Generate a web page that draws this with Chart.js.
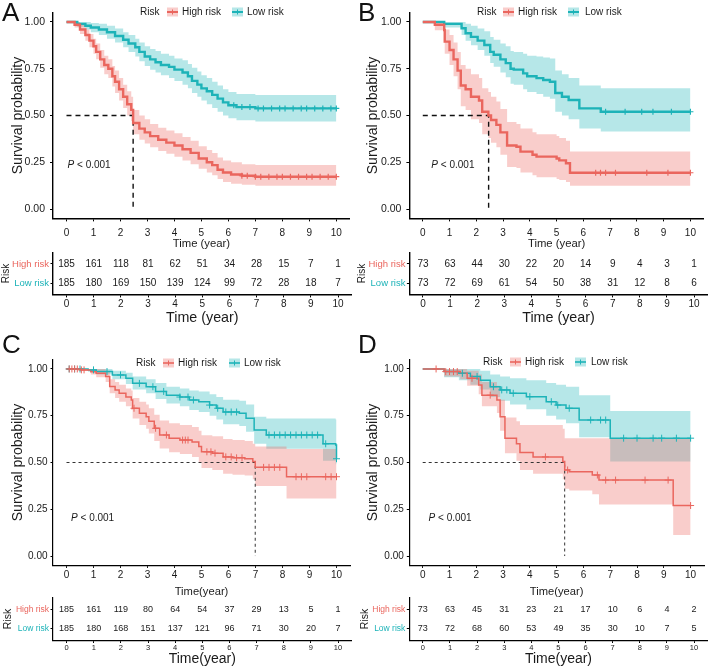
<!DOCTYPE html>
<html><head><meta charset="utf-8"><title>Kaplan-Meier survival by risk group</title>
<script src="https://cdn.jsdelivr.net/npm/chart.js@4.4.1/dist/chart.umd.min.js"></script>
<style>
html,body{margin:0;padding:0;background:#fff}
#wrap{position:relative;width:709px;height:668px;overflow:hidden;background:#fff}
#wrap canvas{position:absolute}
</style>
</head><body><div id="wrap"></div>
<script>
// ---------------- DATA ----------------
const RISK_GROUPS = ['High risk', 'Low risk'];
const X_TICKS = [0,1,2,3,4,5,6,7,8,9,10];
const Y_TICKS = [0, 0.25, 0.5, 0.75, 1];
const RISK_TIMES = [0,1,2,3,4,5,6,7,8,9,10];

// Panel A
const aHighT  = [0,0.3,0.5,0.7,0.85,1.0,1.1,1.25,1.4,1.55,1.7,1.8,1.95,2.1,2.25,2.4,2.47,2.7,2.9,3.1,3.4,3.7,4.0,4.3,4.6,4.9,5.2,5.4,5.6,5.8,6.1,6.5,7.0];
const aHighS  = [1,.985,.96,.93,.90,.87,.84,.80,.77,.75,.71,.68,.64,.60,.56,.53,.46,.43,.41,.39,.37,.355,.34,.32,.30,.27,.25,.235,.21,.195,.185,.178,.173];
const aHighLo = [1,.97,.935,.90,.865,.83,.80,.755,.72,.70,.655,.62,.58,.54,.50,.47,.40,.37,.35,.33,.31,.295,.28,.26,.24,.215,.195,.18,.16,.145,.135,.13,.125];
const aHighHi = [1,1,.985,.96,.935,.91,.885,.85,.82,.80,.765,.74,.70,.665,.63,.60,.53,.50,.48,.455,.435,.42,.405,.385,.365,.335,.315,.30,.275,.26,.25,.24,.235];
const aHighCens = [6.5,6.7,7.0,7.2,7.5,7.8,8.0,8.3,8.6,8.9,9.1,9.4,9.7,10.0];
const aLowT  = [0,0.4,0.7,0.9,1.2,1.5,1.8,2.1,2.3,2.55,2.7,2.9,3.1,3.3,3.5,3.8,4.0,4.3,4.5,4.65,4.85,5.0,5.2,5.4,5.6,5.8,6.0,6.3,7.0];
const aLowS  = [1,.99,.98,.97,.96,.945,.925,.905,.885,.865,.84,.815,.80,.785,.77,.76,.745,.73,.71,.685,.665,.645,.63,.61,.59,.57,.555,.545,.538];
const aLowLo = [1,.975,.96,.945,.93,.91,.89,.865,.84,.815,.79,.765,.745,.73,.715,.70,.685,.665,.645,.62,.60,.58,.56,.54,.52,.50,.485,.475,.468];
const aLowHi = [1,1,1,.995,.99,.98,.965,.945,.93,.91,.89,.87,.855,.845,.83,.82,.805,.795,.775,.755,.735,.715,.70,.68,.66,.64,.625,.615,.61];
const aLowCens = [6.2,6.5,6.8,7.1,7.3,7.6,7.9,8.1,8.4,8.7,8.9,9.2,9.5,9.8,10.0];
const aRiskHigh = [185,161,118,81,62,51,34,28,15,7,1];
const aRiskLow  = [185,180,169,150,139,124,99,72,28,18,7];
const aMedian = 2.47;

// Panel B
const bHighT  = [0,0.45,0.8,0.82,1.0,1.15,1.3,1.42,1.6,1.8,2.1,2.22,2.45,2.55,2.75,2.9,3.15,3.5,3.65,4.1,4.25,5.0,5.1,5.35,5.5];
const bHighS  = [1,.985,.957,.895,.85,.80,.74,.66,.64,.60,.58,.52,.50,.476,.45,.41,.34,.333,.307,.29,.28,.27,.26,.245,.194];
const bHighLo = [1,.955,.91,.83,.77,.71,.64,.55,.53,.48,.46,.40,.38,.355,.33,.29,.225,.22,.195,.18,.17,.16,.155,.145,.125];
const bHighHi = [1,1,1,.96,.93,.89,.84,.77,.75,.72,.70,.645,.625,.60,.575,.535,.465,.455,.43,.41,.40,.39,.38,.365,.307];
const bHighCens = [6.46,6.64,6.83,7.2,8.37,9.16,10.0];
const bLowT  = [0,0.8,1.45,1.6,1.8,2.05,2.3,2.52,2.65,2.9,3.1,3.28,3.4,3.75,3.9,4.25,4.5,4.75,4.95,5.2,5.45,5.85,6.65];
const bLowS  = [1,.99,.966,.94,.92,.90,.877,.84,.825,.80,.78,.75,.745,.725,.71,.70,.69,.68,.62,.60,.583,.538,.52];
const bLowLo = [1,.97,.93,.90,.875,.85,.82,.78,.76,.73,.705,.67,.665,.64,.625,.615,.60,.59,.52,.50,.48,.43,.414];
const bLowHi = [1,1,1,.99,.98,.965,.95,.92,.905,.885,.87,.845,.84,.83,.82,.815,.81,.805,.74,.72,.70,.66,.645];
const bLowCens = [6.83,7.56,8.18,8.6,9.29,10.0];
const bRiskHigh = [73,63,44,30,22,20,14,9,4,3,1];
const bRiskLow  = [73,72,69,61,54,50,38,31,12,8,6];
const bMedian = 2.46;

// Panel C
const cHighT  = [0,0.5,0.9,1.1,1.45,1.6,1.8,1.95,2.2,2.4,2.45,2.7,2.95,3.05,3.25,3.45,3.8,4.2,4.65,4.9,5.0,5.4,5.8,6.15,6.6,6.9,6.99,8.15];
const cHighS  = [1,.995,.985,.977,.96,.906,.888,.87,.85,.834,.79,.763,.745,.72,.683,.647,.63,.62,.61,.585,.557,.55,.53,.525,.52,.505,.474,.424];
const cHighLo = [1,.99,.97,.955,.93,.87,.845,.825,.80,.78,.735,.70,.68,.655,.615,.575,.555,.545,.53,.50,.47,.46,.44,.435,.43,.41,.375,.308];
const cHighHi = [1,1,1,1,.99,.945,.93,.915,.895,.885,.845,.825,.81,.79,.755,.725,.71,.70,.69,.67,.645,.64,.625,.62,.615,.60,.585,.572];
const cHighCens = [0.1,0.2,0.3,0.4,0.55,0.65,2.5,3.3,3.7,4.3,4.4,4.5,5.2,5.35,5.5,5.9,6.1,6.3,6.5,7.3,7.5,7.7,7.9,8.5,8.7,8.9,9.6,9.8,10.0];
const cLowT  = [0,0.8,1.1,1.7,2.2,2.45,2.95,3.3,3.7,4.2,4.55,4.9,5.3,5.55,5.8,6.4,6.65,6.95,7.4,9.5,9.97,10.0];
const cLowS  = [1,.995,.986,.968,.95,.923,.905,.88,.86,.85,.834,.825,.807,.79,.77,.763,.736,.674,.647,.60,.594,.52];
const cLowLo = [1,.985,.97,.945,.92,.89,.87,.84,.815,.80,.78,.77,.75,.73,.705,.695,.665,.60,.573,.51,.49,.49];
const cLowHi = [1,1,1,.99,.98,.96,.945,.925,.905,.895,.885,.88,.865,.85,.835,.83,.81,.745,.735,.735,.73,.73];
const cLowCens = [0.1,0.3,0.5,1.0,1.5,2.0,2.7,3.2,3.6,4.2,4.5,4.7,5.3,5.6,5.9,6.1,6.3,7.5,7.7,7.9,8.1,8.3,8.5,8.7,8.9,9.1,9.3,9.6,10.0];
const cRiskHigh = [185,161,119,80,64,54,37,29,13,5,1];
const cRiskLow  = [185,180,168,151,137,121,96,71,30,20,7];
const cMedian = 6.99;

// Panel D
const dHighT  = [0,0.8,1.4,1.66,2.09,2.21,2.77,2.89,3.07,3.5,3.63,4.12,5.23,5.3,5.47,6.33,6.58,9.35];
const dHighS  = [1,.986,.977,.95,.914,.86,.834,.745,.63,.60,.553,.53,.505,.46,.45,.433,.406,.27];
const dHighLo = [1,.96,.945,.91,.865,.80,.765,.67,.55,.51,.46,.44,.41,.36,.35,.33,.275,.112];
const dHighHi = [1,1,1,.99,.97,.93,.91,.835,.74,.72,.70,.70,.68,.63,.63,.63,.63,.63];
const dHighCens = [0.5,0.86,1.0,1.15,1.29,1.84,2.52,4.58,5.41,6.52,6.83,7.2,8.3,9.16,10.0];
const dLowT  = [0,0.8,1.35,1.78,2.15,2.52,2.89,3.26,3.87,4.61,4.98,5.35,5.84,7.0];
const dLowS  = [1,.986,.977,.96,.94,.905,.888,.87,.852,.825,.807,.79,.727,.63];
const dLowLo = [1,.955,.94,.915,.89,.85,.83,.81,.785,.75,.73,.71,.635,.505];
const dLowHi = [1,1,1,1,.99,.97,.96,.95,.94,.925,.915,.905,.86,.775];
const dLowCens = [1.48,2.03,2.64,2.95,3.14,3.38,4.0,4.8,5.04,5.47,6.27,6.64,6.83,7.5,8.0,8.6,8.92,9.47,10.0];
const dRiskHigh = [73,63,45,31,23,21,17,10,6,4,2];
const dRiskLow  = [73,72,68,60,53,49,35,30,10,7,5];
const dMedian = 5.30;

const END_TIME = 10;

// ---------------- STYLE ----------------
const FONT = "'Liberation Sans', Arial, Helvetica, sans-serif";
const INK = '#1a1a1a';
const RED = '#EA665E', TEAL = '#1DB3B8';
const RED_BAND = 'rgba(236,100,92,0.32)', TEAL_BAND = 'rgba(28,180,185,0.32)';

const AB = {lw:2.4, cr:3, cw:1.2, dash:[5,4], dashW:1.4, dashColor:'#111', axisW:1.4, tl:3, tick:10.5, xtick:10, ytitle:14, xtitle:11.3,
            num:10, rowLab:9.5, tabTick:10, tabTitle:14.3, riskTitle:10, leg:10, p:10, letter:26, keyLw:2};
const CD = {lw:1.5, cr:3.5, cw:1, dash:[3,3], dashW:1, dashColor:'#333', axisW:1.2, tl:2.5, tick:10, xtick:10, ytitle:14, xtitle:11.2,
            num:9, rowLab:8.5, tabTick:7.5, tabTitle:14, riskTitle:10.5, leg:10, p:10, letter:26, keyLw:1.6};

const wrap = document.getElementById('wrap');
function addCanvas(l,t,w,h){
  const c=document.createElement('canvas'); c.width=w; c.height=h;
  c.style.left=l+'px'; c.style.top=t+'px'; c.style.width=w+'px'; c.style.height=h+'px';
  wrap.appendChild(c); return c;
}
function pts(ts, vs, end){
  const a = ts.map((t,i)=>({x:t,y:vs[i]}));
  if (end > ts[ts.length-1]) a.push({x:end, y:vs[vs.length-1]});
  return a;
}
function stepAt(ts, ss, t){ let v=ss[0]; for(let i=0;i<ts.length;i++) if(ts[i]<=t) v=ss[i]; return v; }
function noPad(s){ s.paddingTop=0; s.paddingBottom=0; s.paddingLeft=0; s.paddingRight=0; }

function xScale(S, o, title, tickSize, titleSize){
  return {type:'linear', min:-0.5, max:10.5,
    afterBuildTicks: s=>{ s.ticks = X_TICKS.map(v=>({value:v})); },
    afterFit: s=>{ s.height = o.h - o.aB; noPad(s); },
    ticks:{autoSkip:false, maxRotation:0, minRotation:0, padding:o.xtickPad, color:INK,
           font:{family:FONT, size:tickSize}, callback:v=>String(v)},
    grid:{drawOnChartArea:false, drawTicks:true, tickLength:S.tl, color:'#000', lineWidth:1},
    border:{display:true, color:'#000', width:S.axisW},
    title:{display:true, text:title, color:INK, font:{family:FONT, size:titleSize}, padding:{top:0, bottom:o.xtitlePad}}
  };
}

const kmDecor = {
  id:'kmDecor',
  afterDraw(chart, args, o){
    const ctx = chart.ctx; ctx.save();
    ctx.fillStyle = '#111'; ctx.textAlign='left'; ctx.textBaseline='alphabetic';
    ctx.font = `${o.letterSize}px ${FONT}`;
    ctx.fillText(o.letter, o.letterX, o.letterY);
    // legend
    const ly = o.legY;
    ctx.font = `${o.legSize}px ${FONT}`; ctx.textBaseline='middle'; ctx.fillStyle=INK;
    ctx.fillText('Risk', o.legX[0], ly);
    [[RED,RED_BAND,RISK_GROUPS[0]],[TEAL,TEAL_BAND,RISK_GROUPS[1]]].forEach(([c,b,t],i)=>{
      const kx = o.legX[1+2*i];
      ctx.fillStyle=b; ctx.fillRect(kx, ly-4.5, 11, 9);
      ctx.strokeStyle=c; ctx.lineWidth=o.keyLw; ctx.beginPath();
      ctx.moveTo(kx, ly); ctx.lineTo(kx+11, ly); ctx.stroke();
      ctx.lineWidth=1; ctx.beginPath(); ctx.moveTo(kx+5.5, ly-2.5); ctx.lineTo(kx+5.5, ly+2.5); ctx.stroke();
      ctx.fillStyle=INK; ctx.fillText(t, o.legX[2+2*i], ly);
    });
    // p value
    const px = chart.scales.x.getPixelForValue(o.pT), py = chart.scales.y.getPixelForValue(o.pS);
    ctx.font = `italic ${o.pSize}px ${FONT}`; ctx.fillText('P', px, py);
    const w = ctx.measureText('P').width;
    ctx.font = `${o.pSize}px ${FONT}`; ctx.fillText(' < 0.001', px+w, py);
    ctx.restore();
  }
};

const riskText = {
  id:'riskText',
  afterDatasetsDraw(chart, args, o){
    const ctx=chart.ctx; ctx.save();
    ctx.font=`${o.size}px ${FONT}`; ctx.fillStyle=INK; ctx.textAlign='center'; ctx.textBaseline='middle';
    chart.data.datasets.forEach((d,i)=>{
      chart.getDatasetMeta(i).data.forEach((el,j)=>ctx.fillText(String(d.counts[j]), el.x, el.y));
    });
    ctx.restore();
  }
};

function kmChart(P){
  const S=P.style, o=P.km;
  const cv = addCanvas(o.left,o.top,o.w,o.h);
  const ds=[];
  P.curves.forEach(c=>{
    ds.push({data:pts(c.t,c.hi,END_TIME), stepped:true, borderWidth:0, borderColor:'transparent', pointRadius:0, backgroundColor:c.band, fill:'+1', order:5});
    ds.push({data:pts(c.t,c.lo,END_TIME), stepped:true, borderWidth:0, borderColor:'transparent', pointRadius:0, fill:false, order:5});
  });
  ds.push({data:[{x:0,y:0.5},{x:P.median,y:0.5},{x:P.median,y:0}], borderColor:S.dashColor, borderWidth:S.dashW, borderDash:S.dash, pointRadius:0, fill:false, order:3});
  P.curves.forEach(c=>{
    ds.push({data:pts(c.t,c.s,END_TIME), stepped:true, borderColor:c.color, borderWidth:S.lw, pointRadius:0, fill:false, order:2});
    ds.push({data:c.cens.map(t=>({x:t,y:stepAt(c.t,c.s,t)})), showLine:false, pointStyle:'cross', pointRadius:S.cr,
             pointBorderWidth:S.cw, pointBorderColor:c.color, borderColor:c.color, backgroundColor:c.color, order:1});
  });
  new Chart(cv, {
    type:'line', data:{datasets:ds},
    options:{
      responsive:false, animation:false, devicePixelRatio:1, events:[],
      layout:{padding:{left:0, top:o.aT, right:o.w-o.aR, bottom:0}},
      plugins:{legend:{display:false}, tooltip:{enabled:false},
        kmDecor:{letter:P.letter, letterX:o.letterX, letterY:o.letterY, letterSize:S.letter, legY:o.legY, legX:o.legX,
                 legSize:S.leg, keyLw:S.keyLw, pT:P.pT, pS:P.pS, pSize:S.p}},
      scales:{
        x: xScale(S, o, P.xTitle, S.xtick, S.xtitle),
        y: {type:'linear', min:-0.05, max:1.05,
          afterBuildTicks: s=>{ s.ticks = Y_TICKS.map(v=>({value:v})); },
          afterFit: s=>{ s.width = o.aL; noPad(s); },
          ticks:{padding:o.ytickPad, color:INK, font:{family:FONT,size:S.tick}, callback:v=>Number(v).toFixed(2)},
          grid:{drawOnChartArea:false, drawTicks:true, tickLength:S.tl, color:'#000', lineWidth:1},
          border:{display:true, color:'#000', width:S.axisW},
          title:{display:true, text:'Survival probability', color:INK, font:{family:FONT,size:S.ytitle}, padding:{top:o.ytp,bottom:0}}
        }
      }
    },
    plugins:[kmDecor]
  });
}

function riskChart(P){
  const S=P.style, o=P.tab;
  const cv = addCanvas(o.left,o.top,o.w,o.h);
  new Chart(cv, {
    type:'scatter',
    data:{datasets:[
      {data:RISK_TIMES.map(t=>({x:t,y:2})), counts:P.riskHigh, pointRadius:0},
      {data:RISK_TIMES.map(t=>({x:t,y:1})), counts:P.riskLow, pointRadius:0}
    ]},
    options:{
      responsive:false, animation:false, devicePixelRatio:1, events:[],
      layout:{padding:{left:0, top:o.aT, right:o.w-o.aR, bottom:0}},
      plugins:{legend:{display:false}, tooltip:{enabled:false}, riskText:{size:S.num}},
      scales:{
        x: xScale(S, o, P.xTitle, S.tabTick, S.tabTitle),
        y: {type:'linear', min:0.4, max:2.6,
          afterBuildTicks: s=>{ s.ticks=[{value:1},{value:2}]; },
          afterFit: s=>{ s.width=o.aL; noPad(s); },
          ticks:{padding:o.ytickPad, font:{family:FONT,size:S.rowLab},
                 color: c => (c.tick && c.tick.value===2) ? RED : TEAL,
                 callback: v => v===2 ? RISK_GROUPS[0] : RISK_GROUPS[1]},
          grid:{drawOnChartArea:false, drawTicks:true, tickLength:2.5, color:'#000', lineWidth:1},
          border:{display:true, color:'#000', width:S.axisW},
          title:{display:true, text:'Risk', color:INK, font:{family:FONT,size:S.riskTitle}, padding:{top:o.ytp,bottom:0}}
        }
      }
    },
    plugins:[riskText]
  });
}

function curvesOf(hT,hS,hLo,hHi,hC,lT,lS,lLo,lHi,lC){
  return [
    {t:hT,s:hS,lo:hLo,hi:hHi,cens:hC,color:RED,band:RED_BAND},
    {t:lT,s:lS,lo:lLo,hi:lHi,cens:lC,color:TEAL,band:TEAL_BAND}
  ];
}

const PANELS = [
  {letter:'A', style:AB, xTitle:'Time (year)', median:aMedian, pT:0.04, pS:0.235, riskHigh:aRiskHigh, riskLow:aRiskLow,
   curves:curvesOf(aHighT,aHighS,aHighLo,aHighHi,aHighCens,aLowT,aLowS,aLowLo,aLowHi,aLowCens),
   km:{left:0,top:0,w:355,h:252,aL:53,aT:12.6,aR:351.6,aB:218.4,ytp:9.6,ytickPad:5,xtickPad:6,xtitlePad:1.2,letterX:2,letterY:21,legY:12,legX:[140,167,182,232,247]},
   tab:{left:0,top:250,w:355,h:80,aL:53,aT:2.6,aR:351.6,aB:44.4,ytp:0,ytickPad:1.5,xtickPad:0.6,xtitlePad:3.4}},
  {letter:'B', style:AB, xTitle:'Time (year)', median:bMedian, pT:0.32, pS:0.235, riskHigh:bRiskHigh, riskLow:bRiskLow,
   curves:curvesOf(bHighT,bHighS,bHighLo,bHighHi,bHighCens,bLowT,bLowS,bLowLo,bLowHi,bLowCens),
   km:{left:355,top:0,w:354,h:252,aL:54.4,aT:12.6,aR:352.6,aB:218.4,ytp:10.1,ytickPad:5,xtickPad:6,xtitlePad:1.2,letterX:3,letterY:21,legY:12,legX:[122,148,163,213,230]},
   tab:{left:355,top:250,w:354,h:80,aL:54.4,aT:2.6,aR:352.6,aB:44.4,ytp:1.5,ytickPad:1.5,xtickPad:0.6,xtitlePad:3.4}},
  {letter:'C', style:CD, xTitle:'Time(year)', median:cMedian, pT:0.17, pS:0.2, riskHigh:cRiskHigh, riskLow:cRiskLow,
   curves:curvesOf(cHighT,cHighS,cHighLo,cHighHi,cHighCens,cLowT,cLowS,cLowLo,cLowHi,cLowCens),
   km:{left:0,top:330,w:355,h:270,aL:53,aT:29.6,aR:351.6,aB:235.4,ytp:9.6,ytickPad:3,xtickPad:1.6,xtitlePad:1.3,letterX:2,letterY:23,legY:33,legX:[136,163,178,229,244]},
   tab:{left:0,top:595,w:355,h:73,aL:53,aT:2.5,aR:351.6,aB:45.5,ytp:1.7,ytickPad:1.5,xtickPad:0,xtitlePad:0.6}},
  {letter:'D', style:CD, xTitle:'Time(year)', median:dMedian, pT:0.22, pS:0.2, riskHigh:dRiskHigh, riskLow:dRiskLow,
   curves:curvesOf(dHighT,dHighS,dHighLo,dHighHi,dHighCens,dLowT,dLowS,dLowLo,dLowHi,dLowCens),
   km:{left:355,top:330,w:354,h:270,aL:54.3,aT:29.6,aR:352.6,aB:235.4,ytp:9.6,ytickPad:3,xtickPad:1.6,xtitlePad:1.3,letterX:3,letterY:23,legY:32,legX:[128,155,170,220,236]},
   tab:{left:355,top:595,w:354,h:73,aL:54.3,aT:2.5,aR:352.6,aB:45.5,ytp:4,ytickPad:1.5,xtickPad:0,xtitlePad:0.6}}
];

PANELS.forEach(P=>{ kmChart(P); riskChart(P); });
</script></body></html>
